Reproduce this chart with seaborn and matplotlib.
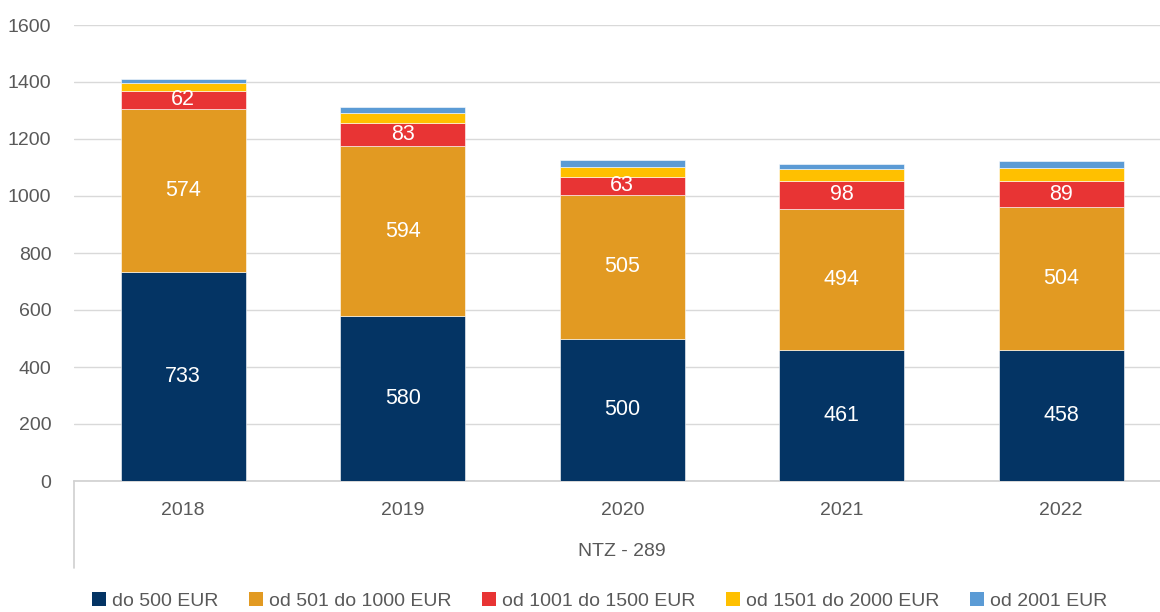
import seaborn as sns
import matplotlib.pyplot as plt
import numpy as np
from matplotlib.patches import Patch

years = ['2018', '2019', '2020', '2021', '2022']
series_names = ['do 500 EUR', 'od 501 do 1000 EUR', 'od 1001 do 1500 EUR',
                'od 1501 do 2000 EUR', 'od 2001 EUR']
do_500 = [733, 580, 500, 461, 458]
od_501_1000 = [574, 594, 505, 494, 504]
od_1001_1500 = [62, 83, 63, 98, 89]
od_1501_2000 = [26, 35, 35, 42, 46]
od_2001 = [14, 19, 23, 19, 26]
group_label = 'NTZ - 289'

colors = ['#043464', '#E29A22', '#E83434', '#FFC000', '#5B9BD5']
labelled = [True, True, True, False, False]

sns.set_style('white')
plt.rcParams['font.family'] = ['Liberation Sans', 'DejaVu Sans']
txt = '#595959'

fig = plt.figure(figsize=(11.6, 6.12), dpi=100)
ax = fig.add_axes([73.5 / 1160, 131 / 612, 1097.5 / 1160, 456 / 612])

all_series = [do_500, od_501_1000, od_1001_1500, od_1501_2000, od_2001]
bottom = np.zeros(len(years))
for vals, col, lab in zip(all_series, colors, labelled):
    vals = np.array(vals)
    sns.barplot(x=years, y=vals, bottom=bottom, color=col, saturation=1,
                width=0.57, edgecolor='white', linewidth=0.4, ax=ax, zorder=3)
    if lab:
        for i, v in enumerate(vals):
            ax.text(i, bottom[i] + v / 2, str(v), ha='center', va='center',
                    color='white', fontsize=15.5, zorder=4)
    bottom = bottom + vals

ax.set_ylim(0, 1600)
ax.set_xlim(-0.5, 4.5)
ax.set_yticks(range(0, 1601, 200))
ax.yaxis.grid(True, color='#D9D9D9', linewidth=1, zorder=0)
for s in ['top', 'right', 'left']:
    ax.spines[s].set_visible(False)
ax.spines['bottom'].set_color('#D0D0D0')
ax.spines['bottom'].set_linewidth(1.2)
ax.tick_params(axis='both', length=0, labelsize=14, colors=txt)
ax.tick_params(axis='y', pad=16)
ax.tick_params(axis='x', pad=15)
ax.set_xlabel('')
ax.set_ylabel('')

# group label and separator line
fig.text(622 / 1160, 1 - 551 / 612, group_label, ha='center', va='center',
         fontsize=14, color=txt)
fig.add_artist(plt.Line2D([74 / 1160, 74 / 1160], [1 - 481 / 612, 1 - 568 / 612],
                          color='#D0D0D0', linewidth=1.2))

handles = [Patch(facecolor=c, edgecolor='none') for c in colors]
fig.legend(handles, series_names, loc='center', bbox_to_anchor=(0.517, 1 - 601 / 612),
           ncol=5, frameon=False, fontsize=14, labelcolor=txt,
           handlelength=0.7, handleheight=0.7, handletextpad=0.3,
           columnspacing=1.6)

fig.savefig('out.png', dpi=100)
